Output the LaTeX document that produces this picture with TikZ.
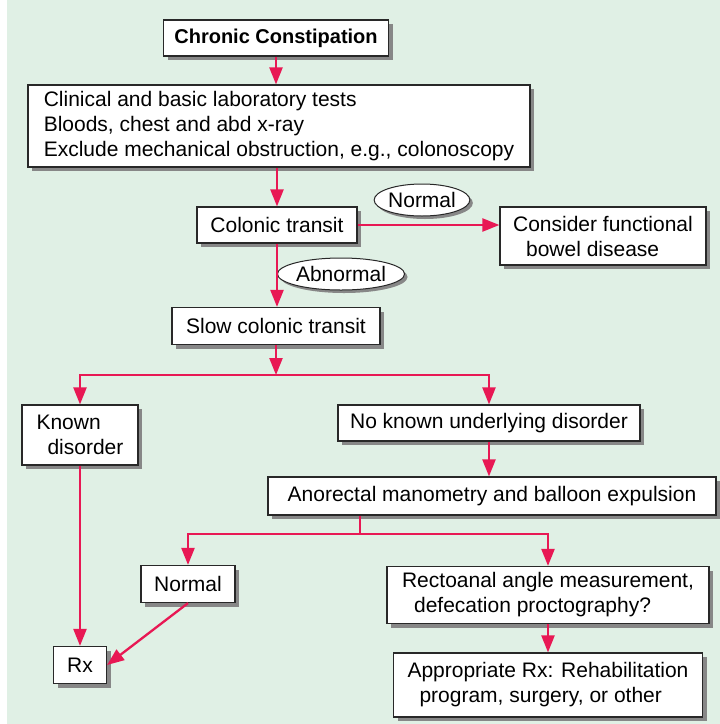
\documentclass[tikz,border=0pt]{standalone}
\usepackage{fontspec}
\setmainfont{Liberation Sans}
\usetikzlibrary{arrows.meta,positioning,shapes.geometric,shadows,calc}
\definecolor{bggreen}{RGB}{224,240,229}
\definecolor{flowred}{RGB}{232,24,84}
\definecolor{boxline}{RGB}{40,40,40}
\definecolor{shadowc}{RGB}{135,135,135}

\begin{document}
\begin{tikzpicture}[x=1pt,y=-1pt,>=Stealth,
    every node/.style={font=\fontsize{21}{25}\selectfont},
    box/.style={draw=boxline,fill=white,line width=1.2pt,inner sep=0pt,
      drop shadow={shadow xshift=4pt,shadow yshift=-4pt,fill=shadowc,opacity=1}},
    oval/.style={ellipse,draw=boxline,fill=white,line width=1pt,inner sep=0pt,
      drop shadow={shadow xshift=3pt,shadow yshift=-3pt,fill=shadowc,opacity=1}},
    arr/.style={flowred,line width=2.3pt,-{Triangle[length=17pt,width=13pt]}},
    twoarr/.style={flowred,line width=2.3pt,{Triangle[length=17pt,width=13pt]}-{Triangle[length=17pt,width=13pt]}}]
  % background panel
  \useasboundingbox (0,0) rectangle (720,724);
  \fill[bggreen] (7,0) rectangle (720,724);

  % main column
  \node[box,minimum width=225pt,minimum height=36pt,font=\fontsize{20}{25}\selectfont\bfseries] (chronic) at (276,38) {Chronic Constipation};
  \node[box,minimum width=502pt,minimum height=82pt,align=left] (clinical) at (279,126)
    {Clinical and basic laboratory tests\\Bloods, chest and abd x-ray\\Exclude mechanical obstruction, e.g., colonoscopy};
  \node[box,minimum width=160pt,minimum height=36pt] (colonic) at (277,225) {Colonic transit};
  \node[oval,minimum width=92pt,minimum height=32pt] (normalo) at (422,200) {Normal};
  \node[box,minimum width=206pt,minimum height=58pt,align=left] (consider) at (603,236)
    {Consider functional\\\hspace{13pt}bowel disease};
  \node[oval,minimum width=112pt,minimum height=32pt] (abnormal) at (341,274) {Abnormal};
  \node[box,minimum width=208pt,minimum height=37pt] (slow) at (276,326) {Slow colonic transit};
  \coordinate (split1) at (276,375);

  % branches
  \node[box,minimum width=116pt,minimum height=60pt,align=left] (known) at (80,435)
    {Known\\\hspace{11pt}disorder};
  \node[box,minimum width=302pt,minimum height=36pt] (noknown) at (489,423) {No known underlying disorder};
  \node[box,minimum width=448pt,minimum height=38pt] (anorectal) at (492,496) {Anorectal manometry and balloon expulsion};
  \coordinate (split2) at (360,534);
  \node[box,minimum width=94pt,minimum height=37pt] (normalb) at (188,584) {Normal};
  \node[box,minimum width=322pt,minimum height=57pt,align=left] (rectoanal) at (548,595)
    {Rectoanal angle measurement,\\\hspace{12pt}defecation proctography?};
  \node[box,minimum width=309pt,minimum height=64pt,align=left] (approp) at (548,685)
    {Appropriate Rx: Rehabilitation\\\hspace{12pt}program, surgery, or other};
  \node[box,minimum width=53pt,minimum height=37pt] (rx) at (80,665) {Rx};

  % connectors
  \draw[arr] (chronic.south) -- (chronic.south |- clinical.north);
  \draw[arr] (clinical.south -| colonic.north) -- (colonic.north);
  \draw[arr] (colonic.east) -- (colonic.east -| consider.west);
  \draw[arr] (colonic.south) -- (colonic.south |- slow.north);
  \draw[arr] (slow.south) -- (split1);
  \draw[twoarr] (known.north) |- (split1) -| (noknown.north);
  \draw[arr] (noknown.south) -- (noknown.south |- anorectal.north);
  \draw[flowred,line width=2.3pt] (split2 |- anorectal.south) -- (split2);
  \draw[twoarr] (normalb.north) |- (split2) -| (rectoanal.north);
  \draw[arr] (known.south) -- (rx.north);
  \draw[arr] (normalb.south) -- (rx.east);
  \draw[arr] (rectoanal.south) -- (approp.north);
\end{tikzpicture}
\end{document}
